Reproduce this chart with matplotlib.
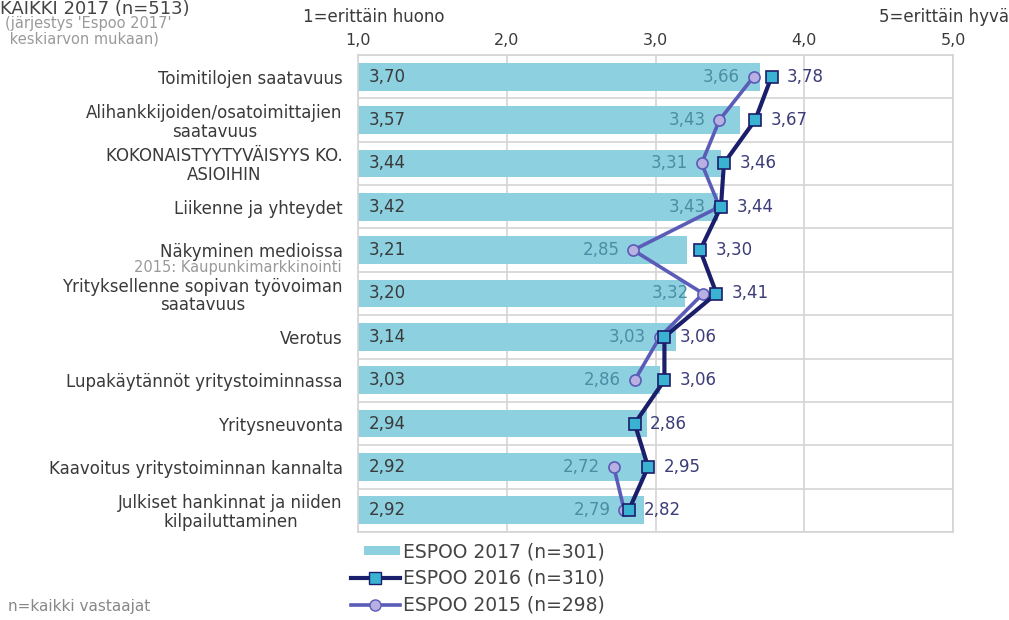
import numpy as np
import matplotlib
matplotlib.use("Agg")
import matplotlib.pyplot as plt
from matplotlib.lines import Line2D
from matplotlib.patches import Patch, Rectangle
from matplotlib.legend_handler import HandlerPatch

categories = [
    "Toimitilojen saatavuus",
    "Alihankkijoiden/osatoimittajien\nsaatavuus",
    "KOKONAISTYYTYVÄISYYS KO.\nASIOIHIN",
    "Liikenne ja yhteydet",
    "Näkyminen medioissa",
    "Yrityksellenne sopivan työvoiman\nsaatavuus",
    "Verotus",
    "Lupakäytännöt yritystoiminnassa",
    "Yritysneuvonta",
    "Kaavoitus yritystoiminnan kannalta",
    "Julkiset hankinnat ja niiden\nkilpailuttaminen",
]
espoo2017 = [3.70, 3.57, 3.44, 3.42, 3.21, 3.20, 3.14, 3.03, 2.94, 2.92, 2.92]
espoo2016 = [3.78, 3.67, 3.46, 3.44, 3.30, 3.41, 3.06, 3.06, 2.86, 2.95, 2.82]
espoo2015 = [3.66, 3.43, 3.31, 3.43, 2.85, 3.32, 3.03, 2.86, np.nan, 2.72, 2.79]
xticks = [1.0, 2.0, 3.0, 4.0, 5.0]
xticklabels = ["1,0", "2,0", "3,0", "4,0", "5,0"]
legend_labels = ["ESPOO 2017 (n=301)", "ESPOO 2016 (n=310)", "ESPOO 2015 (n=298)"]

BAR = "#8dd0e0"
C16 = "#1b1e6b"
C16F = "#3ab2d2"
C15 = "#5a5cb8"
C15F = "#b9b0e2"
L15 = "#4a8ea4"
L16 = "#3c3c78"
TXT = "#3a3a3a"
GRID = "#d4d4d4"

def fmt(v):
    return f"{v:.2f}".replace(".", ",")

fig = plt.figure(figsize=(10.09, 6.2), dpi=100)
ax = fig.add_axes([358/1009, 1-532/620, (953-358)/1009, (532-55)/620])

n = len(categories)
y = np.arange(n)
ax.barh(y, np.array(espoo2017) - 1.0, left=1.0, height=0.64, color=BAR, zorder=2)

ax.plot(espoo2016, y, color=C16, lw=3.0, marker="s", ms=8, mfc=C16F, mec=C16, mew=1.2, zorder=4)
ax.plot(espoo2015, y, color=C15, lw=2.6, marker="o", ms=8, mfc=C15F, mec=C15, mew=1.2, zorder=3)

VF = 12
for i in range(n):
    ax.text(1.075, y[i], fmt(espoo2017[i]), va="center", ha="left", fontsize=VF, color=TXT, zorder=5)
    ax.annotate(fmt(espoo2016[i]), (espoo2016[i], y[i]), xytext=(11, 0), textcoords="offset points",
                va="center", ha="left", fontsize=VF, color=L16, zorder=5)
    if not np.isnan(espoo2015[i]):
        ax.annotate(fmt(espoo2015[i]), (espoo2015[i], y[i]), xytext=(-10, 0), textcoords="offset points",
                    va="center", ha="right", fontsize=VF, color=L15, zorder=5)

ax.set_xlim(1.0, 5.0)
ax.set_ylim(n - 0.5, -0.5)
ax.xaxis.tick_top()
ax.set_xticks(xticks)
ax.set_xticklabels(xticklabels, fontsize=11.5, color=TXT)
ax.tick_params(axis="x", length=0, pad=5)
ax.set_yticks(y)
ax.set_yticklabels(categories, fontsize=12, color=TXT, multialignment="center", linespacing=1.05)
ax.tick_params(axis="y", length=0, pad=11)
ax.set_yticks(np.arange(n + 1) - 0.5, minor=True)
ax.tick_params(axis="y", which="minor", length=0)
ax.grid(axis="x", which="major", color=GRID, lw=1.2, zorder=0)
ax.grid(axis="y", which="minor", color=GRID, lw=1.2, zorder=0)
ax.grid(axis="y", which="major", visible=False)
for s in ax.spines.values():
    s.set_color(GRID)
    s.set_linewidth(1.2)

# note under "Näkyminen medioissa"
ax.annotate("2015: Kaupunkimarkkinointi", xy=(0, 4), xycoords=("axes fraction", "data"),
            xytext=(-12, -12.5), textcoords="offset points", ha="right", va="center",
            fontsize=10.5, color="#999999")

fig.text(0.0, 1.0, "KAIKKI 2017 (n=513)", fontsize=13, color="#444444", ha="left", va="top")
fig.text(5/1009, 1-31/620, "(järjestys 'Espoo 2017'\n keskiarvon mukaan)", fontsize=10.5, color="#9a9a9a",
         ha="left", va="center", linespacing=1.0)
fig.text(374/1009, 1-17/620, "1=erittäin huono", fontsize=12, color=TXT, ha="center", va="center")
fig.text(1.0, 1-17/620, "5=erittäin hyvä", fontsize=12, color=TXT, ha="right", va="center")
fig.text(8/1009, 1-607/620, "n=kaikki vastaajat", fontsize=11, color="#888888", ha="left", va="center")


def bar_patch(legend, orig_handle, xdescent, ydescent, width, height, fontsize):
    return Rectangle((-xdescent + 0.27 * width, -ydescent + 0.1 * height), 0.73 * width, 0.8 * height)


handles = [
    Patch(facecolor=BAR, edgecolor="none"),
    Line2D([], [], color=C16, lw=3.0, marker="s", ms=8, mfc=C16F, mec=C16),
    Line2D([], [], color=C15, lw=2.6, marker="o", ms=8, mfc=C15F, mec=C15),
]
leg = fig.legend(handles, legend_labels, loc="upper left", bbox_to_anchor=(351/1009, 1-542/620),
                 frameon=False, fontsize=13.5, handlelength=2.6, handletextpad=0.15,
                 handleheight=0.5, labelspacing=0.42, borderpad=0.0, borderaxespad=0.0,
                 handler_map={Patch: HandlerPatch(patch_func=bar_patch)})
for t in leg.get_texts():
    t.set_color("#444444")

fig.savefig("out.png", dpi=100)
